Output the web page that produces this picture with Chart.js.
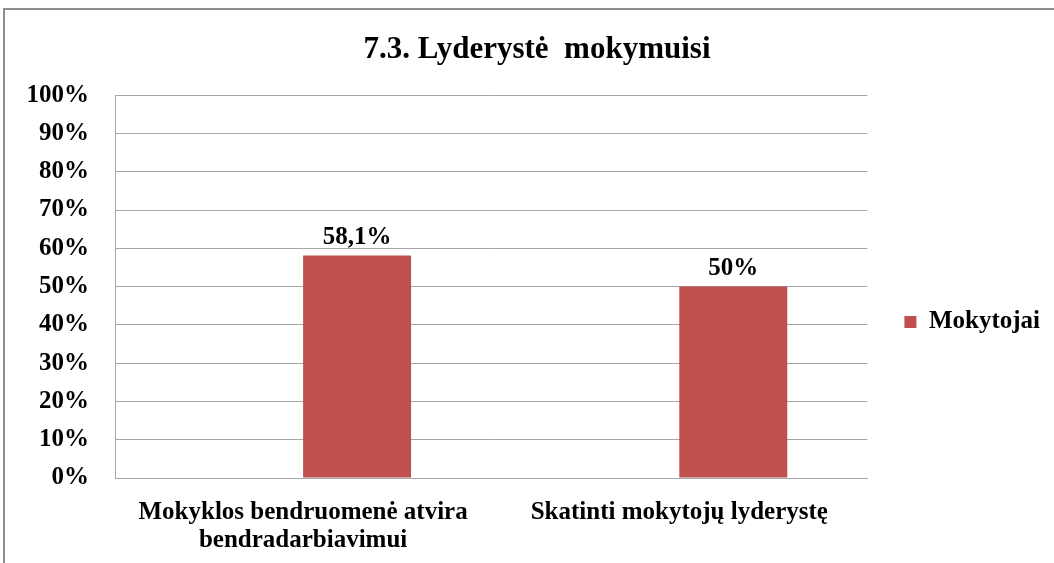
<!DOCTYPE html>
<html>
<head>
  <meta charset="UTF-8">
  <title>7.3. Lyderystė mokymuisi</title>
  <style>
    body {
      margin: 0;
      background: #fff;
      overflow: hidden;
    }
    #wrap {
      position: relative;
      width: 1054px;
      height: 563px;
    }
    #frame {
      position: absolute;
      left: 3px;
      top: 8px;
      width: 2000px;
      height: 2000px;
      border: 2px solid #8e8e8e;
      pointer-events: none;
    }
    #chart {
      display: block;
    }
  </style>
  <script src="https://cdn.jsdelivr.net/npm/chart.js"></script>
</head>
<body>
  <div id="wrap">
    <canvas id="chart" width="1054" height="563"></canvas>
    <div id="frame"></div>
  </div>
  <script>
    const categories = [
      ['Mokyklos bendruomenė atvira', 'bendradarbiavimui'],
      'Skatinti mokytojų lyderystę'
    ];
    const mokytojai = [58.1, 50];
    const emptySeries = [null, null];   // second (empty) series in the original group
    const valueLabels = ['58,1%', '50%'];
    const yTicks = [0, 10, 20, 30, 40, 50, 60, 70, 80, 90, 100];

    const serif = "'Liberation Serif', 'Times New Roman', serif";
    const gridGrey = '#a6a6a6';

    // values above bars
    const barLabels = {
      id: 'barLabels',
      afterDatasetsDraw(chart) {
        const ctx = chart.ctx;
        const meta = chart.getDatasetMeta(1);
        ctx.save();
        ctx.font = 'bold 25px ' + serif;
        ctx.fillStyle = '#000';
        ctx.textAlign = 'center';
        ctx.textBaseline = 'alphabetic';
        meta.data.forEach((bar, i) => {
          ctx.fillText(valueLabels[i], bar.x, bar.y - 12);
        });
        ctx.restore();
      }
    };

    new Chart(document.getElementById('chart'), {
      type: 'bar',
      data: {
        labels: categories,
        datasets: [{
          label: '',
          data: emptySeries,
          backgroundColor: '#4f81bd'
        }, {
          label: 'Mokytojai',
          data: mokytojai,
          backgroundColor: '#c0504d'
        }]
      },
      options: {
        responsive: false,
        animation: false,
        categoryPercentage: 0.574,
        barPercentage: 1,
        layout: {
          padding: { left: 24, top: 20, right: 4, bottom: 4 }
        },
        plugins: {
          title: {
            display: true,
            text: '7.3. Lyderystė  mokymuisi',
            color: '#000',
            font: { family: serif, size: 31, weight: 'bold' },
            padding: { top: 11, bottom: 27 }
          },
          legend: {
            position: 'right',
            title: {
              display: true,
              text: '',
              font: { size: 10, lineHeight: 1 },
              padding: { top: 55, bottom: 0 }
            },
            labels: {
              filter: item => item.datasetIndex === 1,
              color: '#000',
              font: { family: serif, size: 25, weight: 'bold' },
              boxWidth: 12,
              boxHeight: 12,
              padding: 37
            }
          },
          tooltip: { enabled: false }
        },
        scales: {
          x: {
            grid: { display: false },
            border: { color: gridGrey },
            ticks: {
              color: '#000',
              font: { family: serif, size: 25, weight: 'bold', lineHeight: 1.1 },
              padding: 13,
              maxRotation: 0,
              autoSkip: false
            },
            afterFit: scale => { scale.height = 81; }
          },
          y: {
            min: 0,
            max: 100,
            afterBuildTicks: scale => {
              scale.ticks = yTicks.map(v => ({ value: v }));
            },
            grid: { color: gridGrey, drawTicks: false },
            border: { color: gridGrey },
            ticks: {
              color: '#000',
              font: { family: serif, size: 25, weight: 'bold' },
              padding: 26,
              callback: v => v + '%'
            },
            afterFit: scale => { scale.width = 91; }
          }
        }
      },
      plugins: [barLabels]
    });
  </script>
</body>
</html>
